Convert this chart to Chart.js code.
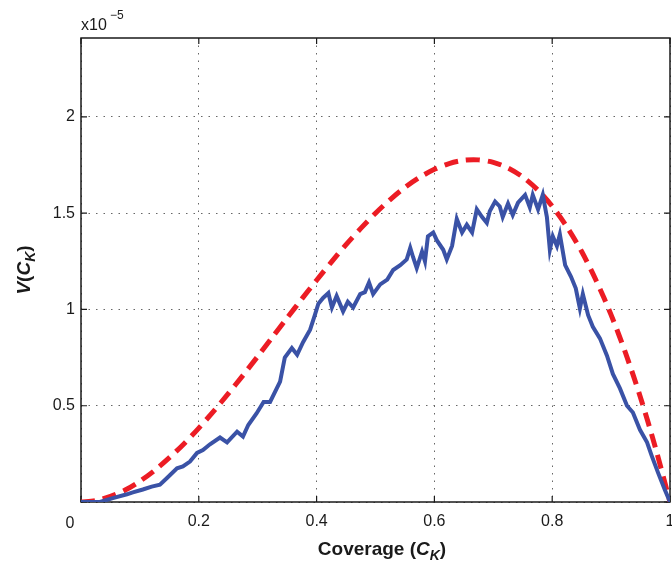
<!DOCTYPE html>
<html>
<head>
<meta charset="utf-8">
<script src="https://cdn.jsdelivr.net/npm/chart.js@4.4.1/dist/chart.umd.min.js"></script>
<style>
  html, body { margin: 0; padding: 0; background: #fff; }
</style>
</head>
<body>
<canvas id="vChart" width="672" height="562"></canvas>
<script>
// observed variance (blue), values in units of 1e-5
const coverage = [0, 0.032, 0.054, 0.078, 0.088, 0.105, 0.12, 0.134, 0.146, 0.163, 0.173, 0.185, 0.197, 0.207,
  0.219, 0.236, 0.248, 0.265, 0.275, 0.284, 0.298, 0.31, 0.321, 0.338, 0.346, 0.358, 0.367, 0.377, 0.389,
  0.397, 0.403, 0.411, 0.42, 0.426, 0.434, 0.445, 0.453, 0.462, 0.474, 0.482, 0.489, 0.496, 0.508, 0.52,
  0.53, 0.542, 0.553, 0.559, 0.564, 0.57, 0.579, 0.584, 0.589, 0.598, 0.604, 0.615, 0.621, 0.63, 0.638,
  0.647, 0.655, 0.664, 0.672, 0.681, 0.689, 0.694, 0.703, 0.711, 0.716, 0.725, 0.733, 0.742, 0.754, 0.762,
  0.767, 0.776, 0.784, 0.791, 0.796, 0.801, 0.808, 0.813, 0.822, 0.832, 0.84, 0.847, 0.852, 0.861, 0.869,
  0.881, 0.893, 0.903, 0.915, 0.927, 0.937, 0.949, 0.961, 0.969, 0.98, 0.991, 1.0];
const observedV = [0, 0, 0.02, 0.04, 0.05, 0.065, 0.08, 0.09, 0.125, 0.175, 0.185, 0.21, 0.255, 0.27,
  0.30, 0.335, 0.31, 0.365, 0.34, 0.40, 0.46, 0.52, 0.52, 0.625, 0.75, 0.80, 0.765, 0.83, 0.895,
  0.97, 1.03, 1.06, 1.085, 1.01, 1.07, 0.99, 1.04, 1.01, 1.08, 1.09, 1.14, 1.08, 1.13, 1.155,
  1.205, 1.23, 1.26, 1.32, 1.27, 1.215, 1.30, 1.25, 1.38, 1.40, 1.36, 1.31, 1.26, 1.33, 1.47,
  1.40, 1.44, 1.40, 1.52, 1.48, 1.45, 1.51, 1.56, 1.535, 1.48, 1.55, 1.49, 1.555, 1.595, 1.53,
  1.595, 1.52, 1.595, 1.48, 1.31, 1.38, 1.33, 1.39, 1.23, 1.17, 1.11, 1.005, 1.08, 0.97, 0.91,
  0.85, 0.76, 0.665, 0.59, 0.50, 0.465, 0.375, 0.31, 0.24, 0.15, 0.065, 0];

// model curve (red dashed)
const modelCoverage = [0, 0.025, 0.05, 0.075, 0.1, 0.125, 0.15, 0.175, 0.2, 0.225, 0.25, 0.275, 0.3, 0.325,
  0.35, 0.375, 0.4, 0.425, 0.45, 0.475, 0.5, 0.525, 0.55, 0.575, 0.6, 0.625, 0.65, 0.675, 0.7, 0.725,
  0.75, 0.775, 0.8, 0.825, 0.85, 0.875, 0.9, 0.925, 0.95, 0.975, 1.0];
const modelV = [0, 0.007, 0.029, 0.062, 0.108, 0.164, 0.23, 0.303, 0.384, 0.471, 0.563, 0.658, 0.756, 0.856,
  0.956, 1.055, 1.152, 1.246, 1.337, 1.421, 1.5, 1.571, 1.634, 1.686, 1.728, 1.758, 1.775, 1.777, 1.764, 1.735,
  1.688, 1.622, 1.536, 1.429, 1.301, 1.148, 0.972, 0.77, 0.542, 0.285, 0];

const xTicks = [0, 0.2, 0.4, 0.6, 0.8, 1];
const yTicks = [0, 0.5, 1, 1.5, 2];
const yMax = 2.41;

const toPoints = (xs, ys) => xs.map((x, i) => ({ x: x, y: ys[i] }));

const tickFont = "16px 'Liberation Sans', Arial, sans-serif";

// box, inward ticks, exponent and axis titles drawn MATLAB style
const axesDecor = {
  id: "axesDecor",
  beforeDatasetsDraw(chart) {
    const a = chart.chartArea;
    const ctx = chart.ctx;
    ctx.save();
    ctx.strokeStyle = "#1a1a1a";
    ctx.lineWidth = 1.5;
    ctx.strokeRect(a.left, a.top, a.right - a.left, a.bottom - a.top);
    const xs = chart.scales.x, ys = chart.scales.y;
    ctx.lineWidth = 1.2;
    ctx.beginPath();
    xTicks.forEach(v => {
      const px = xs.getPixelForValue(v);
      ctx.moveTo(px, a.bottom); ctx.lineTo(px, a.bottom - 6);
      ctx.moveTo(px, a.top); ctx.lineTo(px, a.top + 6);
    });
    yTicks.forEach(v => {
      const py = ys.getPixelForValue(v);
      ctx.moveTo(a.left, py); ctx.lineTo(a.left + 6, py);
      ctx.moveTo(a.right, py); ctx.lineTo(a.right - 6, py);
    });
    ctx.stroke();
    ctx.restore();
  },
  afterDraw(chart) {
    const ctx = chart.ctx;
    const a = chart.chartArea;
    ctx.save();
    ctx.fillStyle = "#1a1a1a";
    ctx.textBaseline = "alphabetic";

    // origin label
    ctx.font = tickFont;
    ctx.textAlign = "center";
    ctx.fillText("0", 70, 528);

    // exponent
    ctx.textAlign = "left";
    ctx.font = "16px 'Liberation Sans', Arial, sans-serif";
    ctx.fillText("x10", a.left, 30);
    ctx.font = "12px 'Liberation Sans', Arial, sans-serif";
    ctx.fillText("\u22125", a.left + 29, 19);

    const drawParts = (list, cx, by) => {
      let w = 0;
      list.forEach(p => { ctx.font = p.f; w += ctx.measureText(p.t).width; });
      let x = cx - w / 2;
      list.forEach(p => {
        ctx.font = p.f;
        ctx.fillText(p.t, x, by + p.dy);
        x += ctx.measureText(p.t).width;
      });
    };
    const bold = "bold 19px 'Liberation Sans', Arial, sans-serif";
    const boldIt = "italic bold 19px 'Liberation Sans', Arial, sans-serif";
    const subIt = "italic bold 14px 'Liberation Sans', Arial, sans-serif";

    // x title: Coverage (C_K)
    drawParts([
      { t: "Coverage (", f: bold, dy: 0 },
      { t: "C", f: boldIt, dy: 0 },
      { t: "K", f: subIt, dy: 5 },
      { t: ")", f: bold, dy: 0 }
    ], 382, 555);

    // y title: V(C_K)
    ctx.save();
    ctx.translate(30, 270);
    ctx.rotate(-Math.PI / 2);
    drawParts([
      { t: "V", f: boldIt, dy: 0 },
      { t: "(", f: bold, dy: 0 },
      { t: "C", f: boldIt, dy: 0 },
      { t: "K", f: subIt, dy: 5 },
      { t: ")", f: bold, dy: 0 }
    ], 0, 0);
    ctx.restore();
    ctx.restore();
  }
};

const ctx = document.getElementById("vChart").getContext("2d");
const vChart = new Chart(ctx, {
  type: "line",
  data: {
    datasets: [
      {
        label: "Observed",
        data: toPoints(coverage, observedV),
        borderColor: "#3a52a6",
        borderWidth: 4,
        pointRadius: 0,
        tension: 0,
        fill: false
      },
      {
        label: "Model",
        data: toPoints(modelCoverage, modelV),
        borderColor: "#ec1c24",
        borderWidth: 5,
        borderDash: [14, 8],
        borderCapStyle: "butt",
        pointRadius: 0,
        tension: 0.3,
        fill: false
      }
    ]
  },
  options: {
    responsive: false,
    animation: false,
    layout: { padding: { left: 0, top: 38, right: 2, bottom: 0 } },
    plugins: {
      legend: { display: false },
      tooltip: { enabled: false }
    },
    scales: {
      x: {
        type: "linear",
        min: 0,
        max: 1,
        afterBuildTicks: s => { s.ticks = xTicks.map(v => ({ value: v })); },
        afterFit: s => { s.height = 60; s.paddingLeft = 0; s.paddingRight = 0; },
        border: { display: false, dash: [1.5, 6] },
        grid: {
          color: "#666",
          lineWidth: 1,
          drawTicks: false
        },
        ticks: {
          padding: 10,
          color: "#1a1a1a",
          font: { family: "'Liberation Sans', Arial, sans-serif", size: 16 },
          maxRotation: 0,
          callback: v => (v === 0 ? "" : String(v))
        }
      },
      y: {
        min: 0,
        max: yMax,
        afterBuildTicks: s => { s.ticks = yTicks.map(v => ({ value: v })); },
        afterFit: s => { s.width = 81; s.paddingTop = 0; s.paddingBottom = 0; },
        border: { display: false, dash: [1.5, 6] },
        grid: {
          color: "#666",
          lineWidth: 1,
          drawTicks: false
        },
        ticks: {
          padding: 6,
          color: "#1a1a1a",
          font: { family: "'Liberation Sans', Arial, sans-serif", size: 16 },
          callback: v => (v === 0 ? "" : String(v))
        }
      }
    }
  },
  plugins: [axesDecor]
});
</script>
</body>
</html>
